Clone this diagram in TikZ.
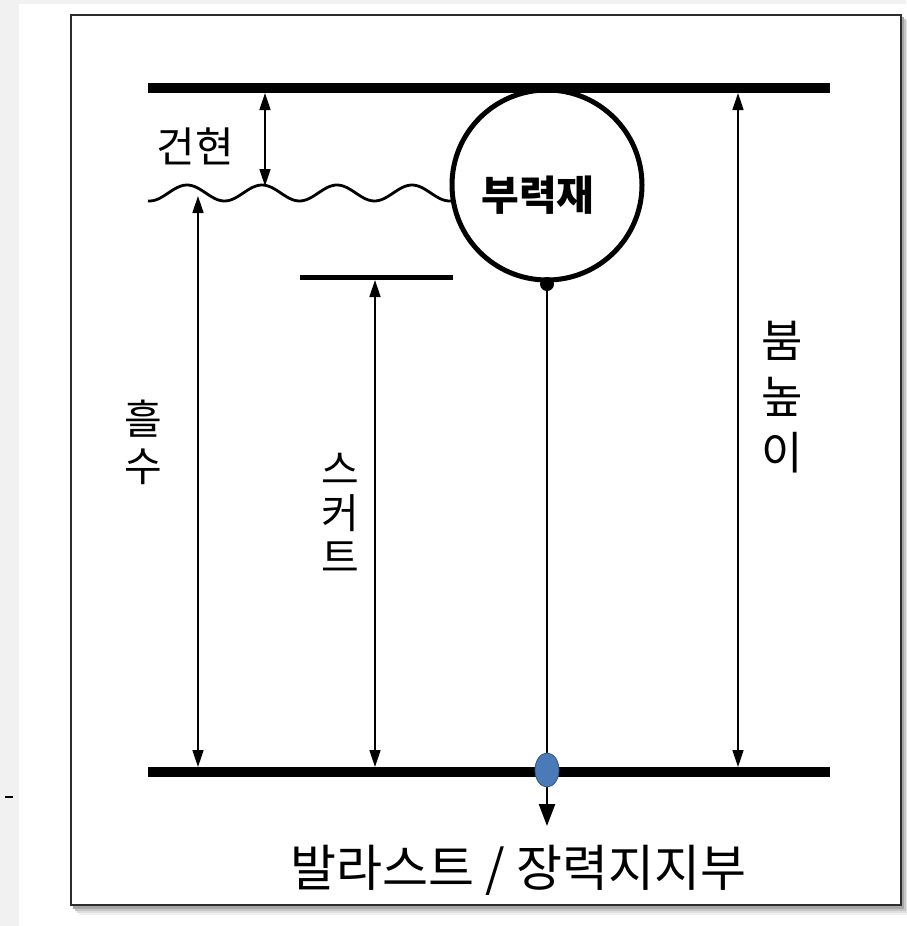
\documentclass[tikz,border=0pt]{standalone}
\usepackage{fontspec}
\newfontfamily\kr{Noto Sans CJK KR}
\usetikzlibrary{arrows.meta}
\definecolor{bggray}{RGB}{241,241,242}
\definecolor{framec}{RGB}{45,45,45}
\definecolor{ballblue}{RGB}{74,122,184}
\tikzset{
  bar/.style={line width=10pt},
  dim/.style={line width=1.6pt, {Triangle[length=17pt,width=11pt]}-{Triangle[length=17pt,width=11pt]}},
  lbl/.style={font=\kr\fontsize{42}{44}\selectfont, inner sep=0pt},
  vlbl/.style={font=\kr\fontsize{41}{47}\selectfont, inner sep=0pt, align=center},
}
\begin{document}
\begin{tikzpicture}[x=1pt,y=-1pt]
\useasboundingbox (0,0) rectangle (906,926);
% background
\fill[bggray] (0,0) rectangle (906,926);
\fill[white] (19,4) rectangle (906,926);
\draw[line width=2.5pt] (5,797) -- (13,797);
% frame shadow
\foreach \o/\c in {9/black!6,7/black!12,5/black!22,3/black!35}{
  \fill[\c] (70+\o,14+\o) rectangle (901+\o,906+\o);
}
\fill[white] (70,14) rectangle (901,906);
\draw[framec, line width=2.5pt] (71,15) rectangle (901,905);
% bars
\coordinate (tl) at (148,88);
\coordinate (tr) at (830,88);
\coordinate (bl) at (148,772);
\coordinate (br) at (830,772);
\draw[bar] (tl) -- (tr);
\draw[bar] (bl) -- (br);
% skirt line
\coordinate (sl) at (300,277);
\coordinate (sr) at (453,277);
\draw[line width=5pt] (sl) -- (sr);
% float
\node[circle, draw, line width=5pt, minimum size=190pt, inner sep=0pt] (float) at (547,185) {};
\node[lbl, font=\kr\bfseries\fontsize{41}{44}\selectfont] (floattext) at (538,195) {부력재};
% wave
\draw[line width=2.8pt, line join=round] plot[domain=148:453, samples=120, smooth] (\x,{193-8*cos(4.8*(\x-187))});
% dimension arrows
\coordinate (fbtop) at (265,93);
\coordinate (fbbot) at (265,186);
\draw[dim] (fbtop) -- (fbbot);
\node[lbl] (fb) at (195,146) {건현};
\coordinate (drtop) at (198,196);
\coordinate (drbot) at (198,767);
\draw[dim] (drtop) -- (drbot);
\node[vlbl] (dr) at (143,442) {흘\\수};
\coordinate (sktop) at (375,280);
\coordinate (skbot) at (375,767);
\draw[dim] (sktop) -- (skbot);
\node[vlbl, font=\kr\fontsize{41}{44}\selectfont] (sk) at (340,513) {스\\커\\트};
\coordinate (bhtop) at (738,93);
\coordinate (bhbot) at (738,767);
\draw[dim] (bhtop) -- (bhbot);
\node[vlbl, font=\kr\fontsize{45}{56}\selectfont] (bh) at (782,397) {붐\\높\\이};
% mooring line
\coordinate (mtop) at (547,284);
\coordinate (manchor) at (547,770);
\coordinate (mend) at (547,826);
\fill (mtop) circle (7pt);
\draw[line width=2.5pt, -{Triangle[length=22pt,width=16pt]}] (mtop) -- (mend);
\fill[ballblue, draw=ballblue!70!black, line width=0.8pt] (manchor) ellipse (12pt and 17pt);
\node[lbl, font=\kr\fontsize{50}{54}\selectfont] (ballast) at (518,870) {발라스트 / 장력지지부};
\end{tikzpicture}
\end{document}
